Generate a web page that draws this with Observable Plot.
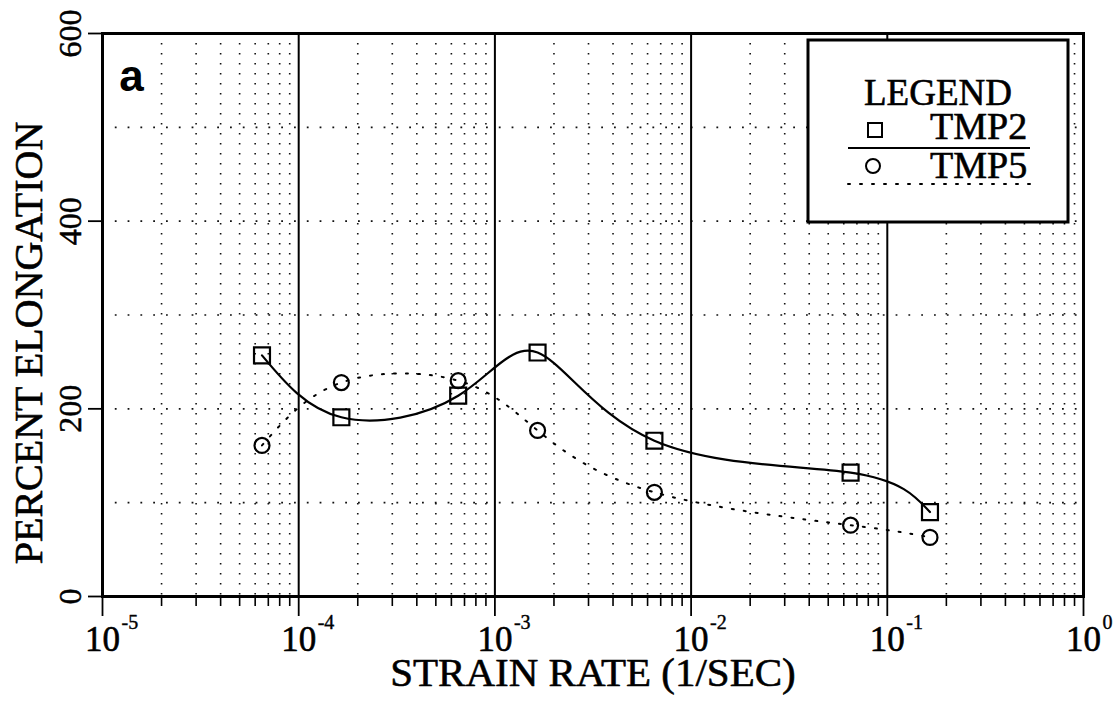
<!DOCTYPE html>
<html>
<head>
<meta charset="utf-8">
<script src="https://cdn.jsdelivr.net/npm/d3@7"></script>
<script src="https://cdn.jsdelivr.net/npm/@observablehq/plot@0.6"></script>
<style>
  html, body { margin: 0; padding: 0; background: #fff; }
  #chart { width: 1118px; height: 704px; }
</style>
</head>
<body>
<div id="chart"></div>
<script>
// ---- data ----
const strainRate = [6.5e-5, 1.65e-4, 6.5e-4, 1.65e-3, 6.5e-3, 6.5e-2, 1.65e-1];
const tmp2 = [257, 191, 214, 260, 166, 132, 90];
const tmp5 = [161, 228, 230, 177, 111, 76, 63];
const seriesNames = ["TMP2", "TMP5"];

const decadeExps = [-5, -4, -3, -2, -1, 0];
const yTickValues = [0, 200, 400, 600];
const yGridValues = [100, 200, 300, 400, 500];
const minorMultipliers = [2, 3, 4, 5, 6, 7, 8, 9];

const xTitle = "STRAIN RATE (1/SEC)";
const yTitle = "PERCENT ELONGATION";
const panelLabel = "a";
const legendTitle = "LEGEND";

// derived tables
const decades = decadeExps.map(e => Math.pow(10, e));
const innerDecades = decades.slice(1, -1);
const minorTicks = decadeExps.slice(0, -1).flatMap(e => minorMultipliers.map(m => m * Math.pow(10, e)));
const rows2 = strainRate.map((x, i) => ({x, y: tmp2[i]}));
const rows5 = strainRate.map((x, i) => ({x, y: tmp5[i]}));

const serif = "'Liberation Serif', 'DejaVu Serif', serif";
const ink = {fill: "#000", stroke: "#000", textAnchor: "middle", lineAnchor: "middle"};

const plot = Plot.plot({
  width: 1118,
  height: 704,
  marginLeft: 102,
  marginRight: 35,
  marginTop: 33,
  marginBottom: 108,
  style: {fontFamily: serif, background: "#fff", color: "#000", overflow: "visible"},
  x: {type: "log", domain: [1e-5, 1]},
  y: {domain: [0, 600]},
  marks: [
    // grid
    Plot.ruleX(minorTicks, {stroke: "#111", strokeWidth: 1.6, strokeDasharray: "1.6,8.4"}),
    Plot.ruleY(yGridValues, {stroke: "#111", strokeWidth: 1.6, strokeDasharray: "1.8,11"}),
    Plot.ruleX(innerDecades, {stroke: "#000", strokeWidth: 2}),
    // axes ticks
    Plot.axisX(minorTicks, {tickSize: 10, tickFormat: () => "", strokeWidth: 1.6, label: null}),
    Plot.axisX(decades, {tickSize: 20, tickFormat: () => "", strokeWidth: 1.8, label: null}),
    Plot.axisY(yTickValues, {tickSize: 14, tickFormat: () => "", strokeWidth: 1.8, label: null}),
    // tick labels
    Plot.text(decades, {...ink, x: d => d, frameAnchor: "bottom", dy: 43, text: () => "10", fontSize: 35, strokeWidth: 0.6}),
    Plot.text(decadeExps, {...ink, x: (d) => Math.pow(10, d), frameAnchor: "bottom", dy: 26, dx: 19, textAnchor: "start", text: d => String(d), fontSize: 20, strokeWidth: 0.4}),
    Plot.text(yTickValues, {...ink, y: d => d, frameAnchor: "left", dx: -32, rotate: -90, text: d => String(d), fontSize: 32, strokeWidth: 0.5}),
    // axis titles
    Plot.text([xTitle], {...ink, frameAnchor: "bottom", dy: 76, text: d => d, fontSize: 41, strokeWidth: 0.6}),
    Plot.text([yTitle], {...ink, frameAnchor: "left", dx: -73, dy: 28, rotate: -90, text: d => d, fontSize: 40, strokeWidth: 0.6}),
    // data
    Plot.line(rows5, {x: "x", y: "y", curve: "natural", stroke: "#000", strokeWidth: 2, strokeDasharray: "2,10", strokeLinecap: "round"}),
    Plot.line(rows2, {x: "x", y: "y", curve: "natural", stroke: "#000", strokeWidth: 2.2}),
    Plot.dot(rows5, {x: "x", y: "y", symbol: "circle", r: 7.5, stroke: "#000", strokeWidth: 2.2, fill: "none"}),
    Plot.dot(rows2, {x: "x", y: "y", symbol: "square", r: 9, stroke: "#000", strokeWidth: 2.2, fill: "none"}),
    // panel label
    Plot.text([panelLabel], {frameAnchor: "top-left", dx: 29, dy: 43, textAnchor: "middle", lineAnchor: "middle", text: d => d, fontFamily: "'Liberation Sans', Arial, sans-serif", fontWeight: "bold", fontSize: 44, fill: "#000"}),
    Plot.frame({stroke: "#000", strokeWidth: 3})
  ]
});

document.getElementById("chart").appendChild(plot);

// ---- legend box (inside the plot, top right) ----
const svg = d3.select(plot);
const lg = svg.append("g").attr("font-family", serif).attr("text-anchor", "start");
lg.append("rect").attr("x", 808).attr("y", 40).attr("width", 260).attr("height", 182)
  .attr("fill", "#fff").attr("stroke", "#000").attr("stroke-width", 3);
lg.append("text").attr("x", 938).attr("y", 105).attr("text-anchor", "middle")
  .attr("font-size", 37).attr("fill", "#000").attr("stroke", "#000").attr("stroke-width", 0.6).text(legendTitle);
// TMP2
lg.append("rect").attr("x", 868).attr("y", 123).attr("width", 14).attr("height", 14)
  .attr("fill", "none").attr("stroke", "#000").attr("stroke-width", 2);
lg.append("text").attr("x", 930).attr("y", 139).attr("font-size", 38).attr("text-anchor", "start")
  .attr("fill", "#000").attr("stroke", "#000").attr("stroke-width", 0.6).text(seriesNames[0]);
lg.append("line").attr("x1", 848).attr("x2", 1030).attr("y1", 148).attr("y2", 148)
  .attr("stroke", "#000").attr("stroke-width", 2.2);
// TMP5
lg.append("circle").attr("cx", 873).attr("cy", 166).attr("r", 7)
  .attr("fill", "none").attr("stroke", "#000").attr("stroke-width", 2);
lg.append("text").attr("x", 930).attr("y", 178).attr("font-size", 38).attr("text-anchor", "start")
  .attr("fill", "#000").attr("stroke", "#000").attr("stroke-width", 0.6).text(seriesNames[1]);
lg.append("line").attr("x1", 848).attr("x2", 1030).attr("y1", 184).attr("y2", 184)
  .attr("stroke", "#000").attr("stroke-width", 2).attr("stroke-dasharray", "2,10").attr("stroke-linecap", "round");
</script>
</body>
</html>
